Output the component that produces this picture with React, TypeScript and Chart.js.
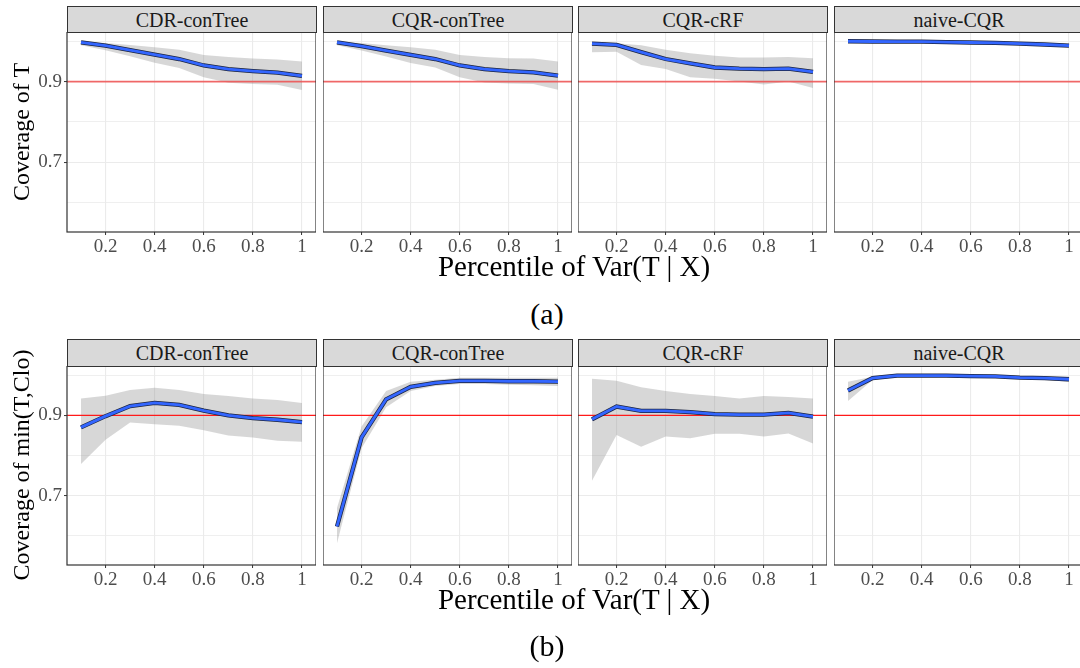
import React, { useEffect, useRef } from 'react';
import { Chart, registerables } from 'chart.js';

Chart.register(...registerables);

// ---------------- data ----------------
const X_VALUES = [0.1, 0.2, 0.3, 0.4, 0.5, 0.6, 0.7, 0.8, 0.9, 1.0];
const METHODS = ['CDR-conTree', 'CQR-conTree', 'CQR-cRF', 'naive-CQR'];
const TARGET = 0.9;
const X_TICKS = [0.2, 0.4, 0.6, 0.8, 1.0];
const Y_GRID = [0.6, 0.7, 0.8, 0.9, 1.0];
const Y_LABELED = [0.7, 0.9];
const X_MIN = 0.043;
const X_MAX = 1.057;
const Y_MIN = 0.527;
const Y_MAX = 1.023;

// (a) Coverage of T
const A_CDR_MEAN = [0.997, 0.989, 0.978, 0.967, 0.956, 0.940, 0.931, 0.926, 0.922, 0.914];
const A_CDR_LO = [0.990, 0.978, 0.963, 0.947, 0.934, 0.911, 0.897, 0.894, 0.892, 0.879];
const A_CDR_HI = [0.999, 0.996, 0.991, 0.985, 0.979, 0.966, 0.961, 0.957, 0.955, 0.950];

const A_CQRT_MEAN = [0.997, 0.988, 0.977, 0.966, 0.956, 0.940, 0.931, 0.926, 0.923, 0.915];
const A_CQRT_LO = [0.990, 0.977, 0.962, 0.946, 0.935, 0.911, 0.898, 0.895, 0.894, 0.880];
const A_CQRT_HI = [0.999, 0.996, 0.990, 0.985, 0.979, 0.966, 0.961, 0.958, 0.957, 0.950];

const A_CRF_MEAN = [0.994, 0.991, 0.973, 0.956, 0.945, 0.935, 0.932, 0.931, 0.932, 0.924];
const A_CRF_LO = [0.973, 0.974, 0.941, 0.931, 0.911, 0.907, 0.900, 0.893, 0.900, 0.884];
const A_CRF_HI = [0.997, 0.995, 0.990, 0.979, 0.970, 0.964, 0.960, 0.960, 0.961, 0.958];

const A_NAIVE_MEAN = [1.000, 0.9995, 0.999, 0.999, 0.998, 0.997, 0.996, 0.994, 0.992, 0.989];
const A_NAIVE_LO = [0.998, 0.998, 0.997, 0.997, 0.996, 0.995, 0.993, 0.991, 0.989, 0.985];
const A_NAIVE_HI = [1.001, 1.001, 1.0005, 1.0005, 1.0, 0.999, 0.998, 0.997, 0.995, 0.993];

// (b) Coverage of min(T, Clo)
const B_CDR_MEAN = [0.870, 0.898, 0.923, 0.931, 0.926, 0.912, 0.900, 0.893, 0.889, 0.883];
const B_CDR_LO = [0.779, 0.839, 0.882, 0.878, 0.874, 0.863, 0.850, 0.845, 0.837, 0.834];
const B_CDR_HI = [0.942, 0.949, 0.963, 0.969, 0.963, 0.953, 0.948, 0.942, 0.938, 0.931];

const B_CQRT_MEAN = [0.623, 0.845, 0.940, 0.971, 0.981, 0.986, 0.986, 0.985, 0.985, 0.984];
const B_CQRT_LO = [0.581, 0.818, 0.920, 0.961, 0.973, 0.978, 0.978, 0.976, 0.975, 0.973];
const B_CQRT_HI = [0.669, 0.872, 0.961, 0.984, 0.989, 0.994, 0.994, 0.994, 0.994, 0.994];

const B_CRF_MEAN = [0.890, 0.922, 0.911, 0.911, 0.908, 0.903, 0.902, 0.902, 0.906, 0.897];
const B_CRF_LO = [0.737, 0.851, 0.822, 0.847, 0.843, 0.854, 0.854, 0.847, 0.855, 0.830];
const B_CRF_HI = [0.991, 0.986, 0.970, 0.961, 0.953, 0.948, 0.942, 0.948, 0.946, 0.942];

const B_NAIVE_MEAN = [0.962, 0.993, 0.999, 0.999, 0.999, 0.998, 0.997, 0.994, 0.993, 0.990];
const B_NAIVE_LO = [0.936, 0.988, 0.996, 0.997, 0.997, 0.996, 0.994, 0.991, 0.989, 0.983];
const B_NAIVE_HI = [0.984, 0.996, 1.001, 1.001, 1.001, 1.000, 0.999, 0.997, 0.996, 0.997];

const ROW_A = [
  { mean: A_CDR_MEAN, lo: A_CDR_LO, hi: A_CDR_HI },
  { mean: A_CQRT_MEAN, lo: A_CQRT_LO, hi: A_CQRT_HI },
  { mean: A_CRF_MEAN, lo: A_CRF_LO, hi: A_CRF_HI },
  { mean: A_NAIVE_MEAN, lo: A_NAIVE_LO, hi: A_NAIVE_HI },
];
const ROW_B = [
  { mean: B_CDR_MEAN, lo: B_CDR_LO, hi: B_CDR_HI },
  { mean: B_CQRT_MEAN, lo: B_CQRT_LO, hi: B_CQRT_HI },
  { mean: B_CRF_MEAN, lo: B_CRF_LO, hi: B_CRF_HI },
  { mean: B_NAIVE_MEAN, lo: B_NAIVE_LO, hi: B_NAIVE_HI },
];

// ---------------- layout ----------------
const SERIF = "'Liberation Serif', 'Times New Roman', serif";
const PANEL_LEFT = [67, 323, 578, 834];
const PANEL_W = 249;
const ROWS = [
  { stripTop: 6, plotTop: 32, plotH: 200, refColor: 'rgba(240,80,80,0.85)', refWidth: 1.8 },
  { stripTop: 339, plotTop: 366, plotH: 199, refColor: '#ff1a1a', refWidth: 1.3 },
];
const X_AXIS_H = 34;

const near = (a: number, b: number) => Math.abs(a - b) < 1e-6;
const fmt = (v: number) => (near(v, 1) ? '1' : String(Math.round(v * 10) / 10));

const zeroPad = (s: any) => {
  s.paddingTop = 0;
  s.paddingBottom = 0;
  s.paddingLeft = 0;
  s.paddingRight = 0;
};

const borderPlugin = {
  id: 'panelBorder',
  afterDraw(chart: any) {
    const { ctx, chartArea } = chart;
    ctx.save();
    ctx.strokeStyle = '#333333';
    ctx.lineWidth = 1.2;
    ctx.strokeRect(chartArea.left, chartArea.top, chartArea.right - chartArea.left, chartArea.bottom - chartArea.top);
    ctx.restore();
  },
};

function Panel({ row, col, series }: { row: number; col: number; series: { mean: number[]; lo: number[]; hi: number[] } }) {
  const ref = useRef<HTMLCanvasElement | null>(null);
  const R = ROWS[row];
  const yW = col === 0 ? PANEL_LEFT[0] : 0;
  const left = col === 0 ? 0 : PANEL_LEFT[col];
  const width = PANEL_W + yW;
  const height = R.plotH + X_AXIS_H;

  useEffect(() => {
    if (!ref.current) return;
    const pts = (arr: number[]) => X_VALUES.map((x, i) => ({ x, y: arr[i] }));
    const tickFont = { family: SERIF, size: 19 };
    const chart = new Chart(ref.current, {
      type: 'line',
      data: {
        datasets: [
          { data: pts(series.mean), borderColor: '#3366ff', borderWidth: 2.8, pointRadius: 0, tension: 0, fill: false },
          { data: pts(series.mean), borderColor: '#1c2540', borderWidth: 4.3, pointRadius: 0, tension: 0, fill: false },
          {
            data: [{ x: X_MIN, y: TARGET }, { x: X_MAX, y: TARGET }],
            borderColor: R.refColor, borderWidth: R.refWidth, pointRadius: 0, fill: false,
          },
          { data: pts(series.hi), borderWidth: 0, borderColor: 'rgba(0,0,0,0)', backgroundColor: 'rgba(150,150,150,0.38)', pointRadius: 0, tension: 0, fill: '+1' },
          { data: pts(series.lo), borderWidth: 0, borderColor: 'rgba(0,0,0,0)', pointRadius: 0, tension: 0, fill: false },
        ],
      } as any,
      options: {
        responsive: false,
        animation: false,
        events: [],
        layout: { padding: 0, autoPadding: false } as any,
        plugins: { legend: { display: false }, tooltip: { enabled: false }, title: { display: false } },
        scales: {
          x: {
            type: 'linear',
            min: X_MIN,
            max: X_MAX,
            afterBuildTicks: (s: any) => { s.ticks = X_TICKS.map((v) => ({ value: v })); },
            afterFit: (s: any) => { s.height = X_AXIS_H; zeroPad(s); },
            ticks: { callback: (v: any) => fmt(Number(v)), font: tickFont, color: '#4d4d4d', padding: 1, maxRotation: 0, autoSkip: false },
            grid: { color: '#ebebeb', lineWidth: 1.1, drawTicks: true, tickLength: 3, tickColor: '#333333', tickWidth: 1 },
            border: { display: false },
          },
          y: {
            type: 'linear',
            min: Y_MIN,
            max: Y_MAX,
            afterBuildTicks: (s: any) => { s.ticks = Y_GRID.map((v) => ({ value: v })); },
            afterFit: (s: any) => { s.width = yW; zeroPad(s); },
            ticks: {
              display: col === 0,
              callback: (v: any) => (Y_LABELED.some((t) => near(t, Number(v))) ? fmt(Number(v)) : ''),
              font: tickFont, color: '#4d4d4d', padding: 2, autoSkip: false,
            },
            grid: {
              color: '#ebebeb',
              lineWidth: (c: any) => (c.tick && Y_LABELED.some((t) => near(t, c.tick.value)) ? 1.1 : 0.8),
              drawTicks: col === 0,
              tickLength: 3,
              tickWidth: 1,
              tickColor: (c: any) => (c.tick && Y_LABELED.some((t) => near(t, c.tick.value)) ? '#333333' : 'rgba(0,0,0,0)'),
            },
            border: { display: false },
          },
        },
      } as any,
      plugins: [borderPlugin],
    });
    return () => chart.destroy();
  }, []);

  return (
    <canvas
      ref={ref}
      width={width}
      height={height}
      style={{ position: 'absolute', left, top: R.plotTop, width, height }}
    />
  );
}

function Strip({ row, col }: { row: number; col: number }) {
  const R = ROWS[row];
  return (
    <div
      style={{
        position: 'absolute', left: PANEL_LEFT[col], top: R.stripTop, width: PANEL_W + 1,
        height: R.plotTop - R.stripTop + 1, boxSizing: 'border-box', border: '1.2px solid #333',
        background: '#d9d9d9', display: 'flex', alignItems: 'center', justifyContent: 'center',
        fontFamily: SERIF, fontSize: 20, color: '#1a1a1a', lineHeight: 1,
      }}
    >
      {METHODS[col]}
    </div>
  );
}

function YTitle({ text, cx, cy }: { text: string; cx: number; cy: number }) {
  return (
    <div
      style={{
        position: 'absolute', left: cx - 200, top: cy - 12, width: 400, height: 24, lineHeight: '24px',
        textAlign: 'center', fontFamily: SERIF, fontSize: 24, color: '#000', whiteSpace: 'nowrap',
        transform: 'rotate(-90deg)', transformOrigin: '50% 50%',
      }}
    >
      {text}
    </div>
  );
}

function CenterText({ text, cx, top, size }: { text: string; cx: number; top: number; size: number }) {
  return (
    <div
      style={{
        position: 'absolute', left: cx - 300, top, width: 600, height: size, lineHeight: `${size}px`,
        textAlign: 'center', fontFamily: SERIF, fontSize: size, color: '#000', whiteSpace: 'nowrap',
      }}
    >
      {text}
    </div>
  );
}

export default function App() {
  return (
    <div style={{ position: 'absolute', left: 0, top: 0, width: 1080, height: 668, overflow: 'hidden', background: '#fff' }}>
      {[0, 1].map((row) =>
        [0, 1, 2, 3].map((col) => (
          <React.Fragment key={`${row}-${col}`}>
            <Panel row={row} col={col} series={(row === 0 ? ROW_A : ROW_B)[col]} />
            <Strip row={row} col={col} />
          </React.Fragment>
        ))
      )}
      <YTitle text="Coverage of T" cx={21} cy={132} />
      <YTitle text="Coverage of min(T,Clo)" cx={21} cy={465} />
      <CenterText text="Percentile of Var(T | X)" cx={574} top={252} size={29} />
      <CenterText text="Percentile of Var(T | X)" cx={574} top={585} size={29} />
      <CenterText text="(a)" cx={547} top={299} size={30} />
      <CenterText text="(b)" cx={547} top={631} size={30} />
    </div>
  );
}
